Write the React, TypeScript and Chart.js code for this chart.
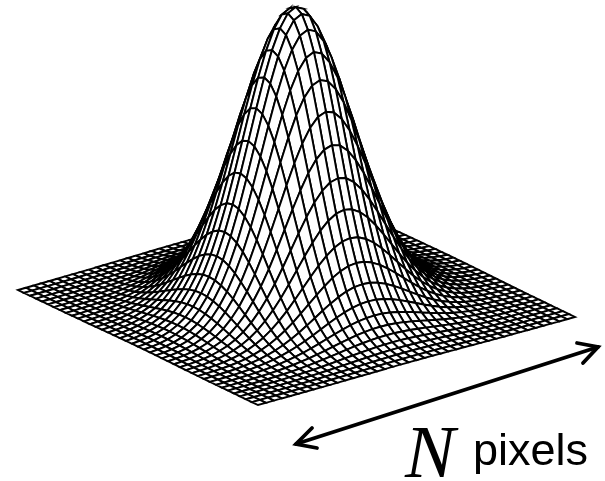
import React, { useEffect, useRef } from "react";
import { Chart, registerables } from "chart.js";

Chart.register(...registerables);

// Bell height read from the silhouette, centre outward (fraction of the peak).
const bellHalf = [1.0, 0.986, 0.943, 0.877, 0.792, 0.695, 0.592, 0.49, 0.393, 0.307, 0.233, 0.171, 0.123, 0.085, 0.057, 0.038, 0.024, 0.015, 0.009, 0.005, 0.003];
const bellProfile = [...bellHalf.slice(1).reverse(), ...bellHalf];

// Base plate corners as seen in the picture [x, y].
const cornerBack = [332, 200];
const cornerLeft = [18, 290];
const cornerRight = [575, 317];
const cornerFront = [258, 405];
const peakHeight = 296;

const arrowShaft = [{ x: 296, y: 444 }, { x: 598, y: 347 }];
const arrowHeadRight = [{ x: 577, y: 343 }, { x: 598, y: 347 }, { x: 583, y: 363 }];
const arrowHeadLeft = [{ x: 312, y: 428 }, { x: 296, y: 444 }, { x: 317, y: 448 }];

const symbolLabel = "N";
const unitLabel = "pixels";

function project(i: number, j: number) {
  const n = bellProfile.length - 1;
  const a = i / n;
  const b = j / n;
  const ground = [0, 1].map(
    (k) =>
      (1 - a) * (1 - b) * cornerBack[k] +
      a * (1 - b) * cornerLeft[k] +
      (1 - a) * b * cornerRight[k] +
      a * b * cornerFront[k]
  );
  return { x: ground[0], y: ground[1] - peakHeight * bellProfile[i] * bellProfile[j] };
}

function buildMesh() {
  const n = bellProfile.length - 1;
  const cells: { i: number; j: number }[] = [];
  for (let i = 0; i < n; i++) for (let j = 0; j < n; j++) cells.push({ i, j });
  // Chart.js paints the first dataset last, so the nearest cells come first.
  cells.sort((p, q) => q.i + q.j - (p.i + p.j));
  return cells.map(({ i, j }) => ({
    data: [project(i, j), project(i + 1, j), project(i + 1, j + 1), project(i, j + 1), project(i, j)],
    showLine: true,
    fill: "shape" as const,
    backgroundColor: "#ffffff",
    borderColor: "#000000",
    borderWidth: 1.9,
    pointRadius: 0,
    tension: 0,
  }));
}

const stroke = (data: { x: number; y: number }[]) => ({
  data,
  showLine: true,
  fill: false,
  borderColor: "#000000",
  borderWidth: 3.8,
  pointRadius: 0,
  tension: 0,
  borderCapStyle: "round" as const,
  borderJoinStyle: "miter" as const,
});

const captionPlugin = {
  id: "caption",
  afterDraw(chart: Chart) {
    const ctx = chart.ctx;
    ctx.save();
    ctx.fillStyle = "#000000";
    ctx.textBaseline = "alphabetic";
    ctx.textAlign = "left";
    ctx.font = "italic 75px 'Liberation Serif'";
    ctx.fillText(symbolLabel, 405, 477);
    ctx.font = "45px 'Liberation Sans'";
    ctx.fillText(unitLabel, 473, 465);
    ctx.restore();
  },
};

export default function App() {
  const ref = useRef<HTMLCanvasElement>(null);
  useEffect(() => {
    if (!ref.current) return;
    const chart = new Chart(ref.current, {
      type: "scatter",
      data: {
        datasets: [stroke(arrowShaft), stroke(arrowHeadRight), stroke(arrowHeadLeft), ...buildMesh()],
      },
      options: {
        animation: false,
        responsive: false,
        events: [],
        layout: { padding: 0 },
        plugins: { legend: { display: false }, tooltip: { enabled: false }, title: { display: false } },
        scales: {
          x: { type: "linear", display: false, min: 0, max: 605 },
          y: { type: "linear", display: false, min: 0, max: 481, reverse: true },
        },
      },
      plugins: [captionPlugin],
    });
    return () => chart.destroy();
  }, []);
  return (
    <div style={{ position: "absolute", left: 0, top: 0, width: 605, height: 481, background: "#fff" }}>
      <canvas ref={ref} width={605} height={481} style={{ display: "block" }} />
    </div>
  );
}
